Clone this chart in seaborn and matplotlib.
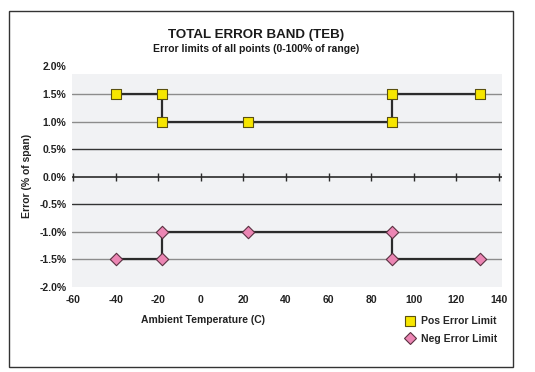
import matplotlib
matplotlib.use("Agg")
import matplotlib.pyplot as plt
import seaborn as sns
import pandas as pd
from matplotlib.lines import Line2D
from matplotlib.patches import Rectangle

# === Data ===
temps = [-40, -18, -18, 22, 90, 90, 131]
pos_err = [1.5, 1.5, 1.0, 1.0, 1.0, 1.5, 1.5]
neg_err = [-1.5, -1.5, -1.0, -1.0, -1.0, -1.5, -1.5]

x_ticks = [-60, -40, -20, 0, 20, 40, 60, 80, 100, 120, 140]
y_ticks = [-2.0, -1.5, -1.0, -0.5, 0.0, 0.5, 1.0, 1.5, 2.0]
grid_light = [-1.5, -1.0, 1.0, 1.5]
grid_dark = [-0.5, 0.5]

df = pd.DataFrame({"temp": temps, "pos": pos_err, "neg": neg_err})

# === Style ===
sns.set_style("white")
plt.rcParams["font.family"] = ["Liberation Sans", "DejaVu Sans"]
plt.rcParams["font.weight"] = "bold"
plt.rcParams["axes.unicode_minus"] = False

yellow = "#f7e600"
pink = "#ec86b4"
line_col = "#2b2b2b"

fig = plt.figure(figsize=(5.35, 3.72), dpi=100)
ax = fig.add_axes([72 / 535, 85 / 372, 430 / 535, 220.6 / 372])

ax.set_xlim(-60.5, 141.5)
ax.set_ylim(-2.0, 2.0)
ax.axhspan(-2.0, 1.86, color="#f1f2f4", zorder=0, lw=0)

for g in grid_light:
    ax.axhline(g, color="#8c8c8c", lw=1.0, zorder=1)
for g in grid_dark:
    ax.axhline(g, color="#333333", lw=1.0, zorder=1)

# zero line with crossing tick marks
ax.axhline(0, color=line_col, lw=1.2, zorder=2)
ax.vlines(x_ticks, -0.07, 0.07, color=line_col, lw=1.0, zorder=2)

# step lines (no aggregation, keep drawing order)
sns.lineplot(data=df, x="temp", y="pos", sort=False, estimator=None, errorbar=None,
             color=line_col, lw=1.6, ax=ax, zorder=3)
sns.lineplot(data=df, x="temp", y="neg", sort=False, estimator=None, errorbar=None,
             color=line_col, lw=1.6, ax=ax, zorder=3)

# markers
sns.scatterplot(data=df, x="temp", y="pos", marker="s", s=48, color=yellow,
                edgecolor="#5a5010", linewidth=0.8, ax=ax, zorder=4)
sns.scatterplot(data=df, x="temp", y="neg", marker="D", s=40, color=pink,
                edgecolor="#5a3040", linewidth=0.8, ax=ax, zorder=4)

# axes cosmetics
for s in ax.spines.values():
    s.set_visible(False)
ax.set_xticks(x_ticks)
ax.set_xticklabels([str(v) for v in x_ticks])
ax.set_yticks(y_ticks)
ax.set_yticklabels([f"{v:.1f}%" for v in y_ticks])
ax.tick_params(axis="both", length=0, labelsize=7.5, colors="#222222")
ax.tick_params(axis="x", pad=6)
ax.tick_params(axis="y", pad=4)
for lab in ax.get_xticklabels() + ax.get_yticklabels():
    lab.set_fontweight("bold")
ax.set_xlabel("")
ax.set_ylabel("")

# labels and titles
fig.text(27 / 535, 1 - 176 / 372, "Error (% of span)", rotation=90, ha="center", va="center",
         fontsize=7.5, fontweight="bold", color="#222222")
fig.text(203 / 535, 1 - 320 / 372, "Ambient Temperature (C)", ha="center", va="center",
         fontsize=7.5, fontweight="bold", color="#222222")
fig.text(256 / 535, 1 - 35 / 372, "TOTAL ERROR BAND (TEB)", ha="center", va="center",
         fontsize=9.6, fontweight="bold", color="#1a1a1a")
fig.text(256 / 535, 1 - 49 / 372, "Error limits of all points (0-100% of range)", ha="center",
         va="center", fontsize=7.5, fontweight="bold", color="#1a1a1a")

# legend
handles = [
    Line2D([], [], ls="none", marker="s", ms=7, mfc=yellow, mec="#5a5010", mew=0.8),
    Line2D([], [], ls="none", marker="D", ms=6.5, mfc=pink, mec="#5a3040", mew=0.8),
]
fig.legend(handles, ["Pos Error Limit", "Neg Error Limit"], loc="upper left",
           bbox_to_anchor=(395 / 535, 1 - 307 / 372), frameon=False,
           handlelength=1.0, handletextpad=0.6, labelspacing=0.7,
           prop={"weight": "bold", "size": 7.5})

# outer frame
fig.patches.append(Rectangle((9 / 535, 5 / 372), 504 / 535, 356 / 372, transform=fig.transFigure,
                             fill=False, edgecolor="#333333", lw=1.0))

fig.savefig("out.png", dpi=100)
